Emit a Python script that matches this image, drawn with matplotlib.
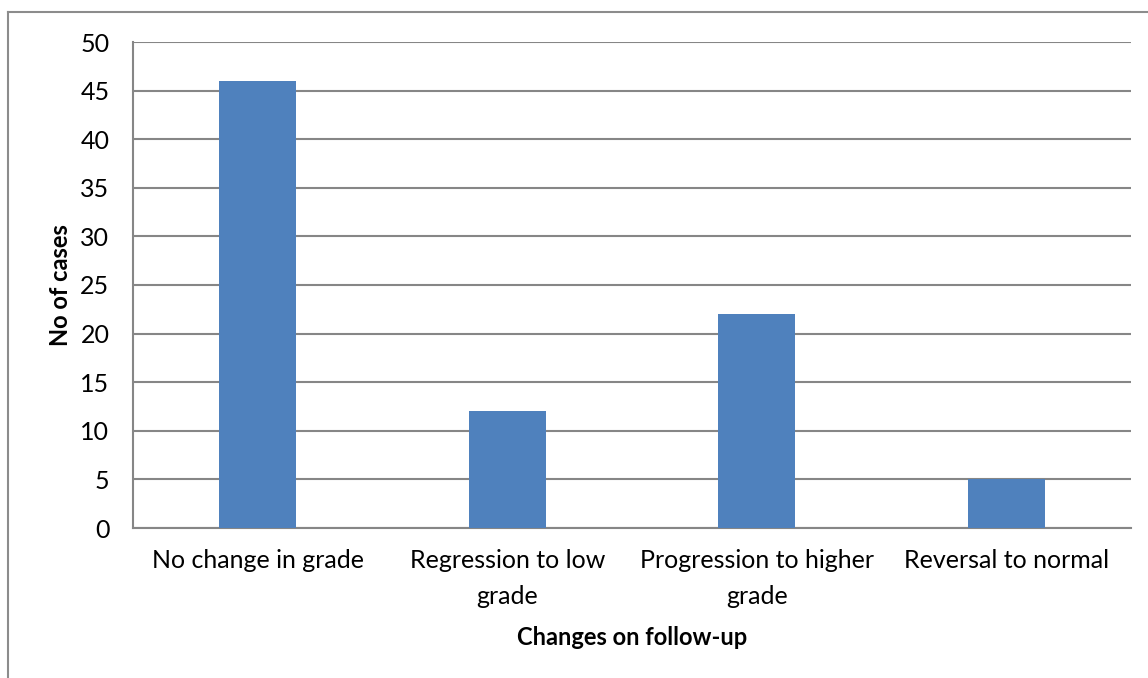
import matplotlib
matplotlib.use("Agg")
import numpy as np
from matplotlib import pyplot as plt
from matplotlib.lines import Line2D

# data
categories = ["No change in grade", "Regression to low\ngrade",
              "Progression to higher\ngrade", "Reversal to normal"]
cases = [46, 12, 22, 5]
yticks = [0, 5, 10, 15, 20, 25, 30, 35, 40, 45, 50]

plt.rcParams['font.family'] = ['Lato', 'DejaVu Sans']

W, H = 1148, 678
fig = plt.figure(figsize=(W / 100, H / 100), dpi=100)
ax = fig.add_axes([133 / W, 1 - 528 / H, (1131 - 133) / W, (528 - 42) / H])

grid_col = "#868686"
x = np.arange(len(categories))
ax.bar(x, cases, width=0.31, color="#4F81BD", zorder=3)

ax.set_xlim(-0.5, len(categories) - 0.5)
ax.set_ylim(0, 50)
ax.set_yticks(yticks)
ax.set_yticklabels([str(v) for v in yticks], fontsize=18)
ax.set_xticks(x)
ax.set_xticklabels(categories, fontsize=18, linespacing=1.7)
ax.tick_params(axis='y', length=0, pad=17)
ax.tick_params(axis='x', length=0, pad=15)
ax.yaxis.grid(True, color=grid_col, linewidth=1.5, zorder=0)
ax.set_axisbelow(True)

for s in ['top', 'right']:
    ax.spines[s].set_visible(False)
for s in ['left', 'bottom']:
    ax.spines[s].set_color(grid_col)
    ax.spines[s].set_linewidth(1.5)

ax.set_ylabel("No of cases", fontsize=17, fontweight='bold', labelpad=6)
ax.set_xlabel("Changes on follow-up", fontsize=17, fontweight='bold', labelpad=13)

# chart border (left and top edges visible)
fig.add_artist(Line2D([8 / W, 8 / W], [0, 1 - 12 / H], color="#8c8c8c", linewidth=1.5))
fig.add_artist(Line2D([8 / W, 1], [1 - 12 / H, 1 - 12 / H], color="#8c8c8c", linewidth=1.5))

fig.savefig("out.png", dpi=100)
